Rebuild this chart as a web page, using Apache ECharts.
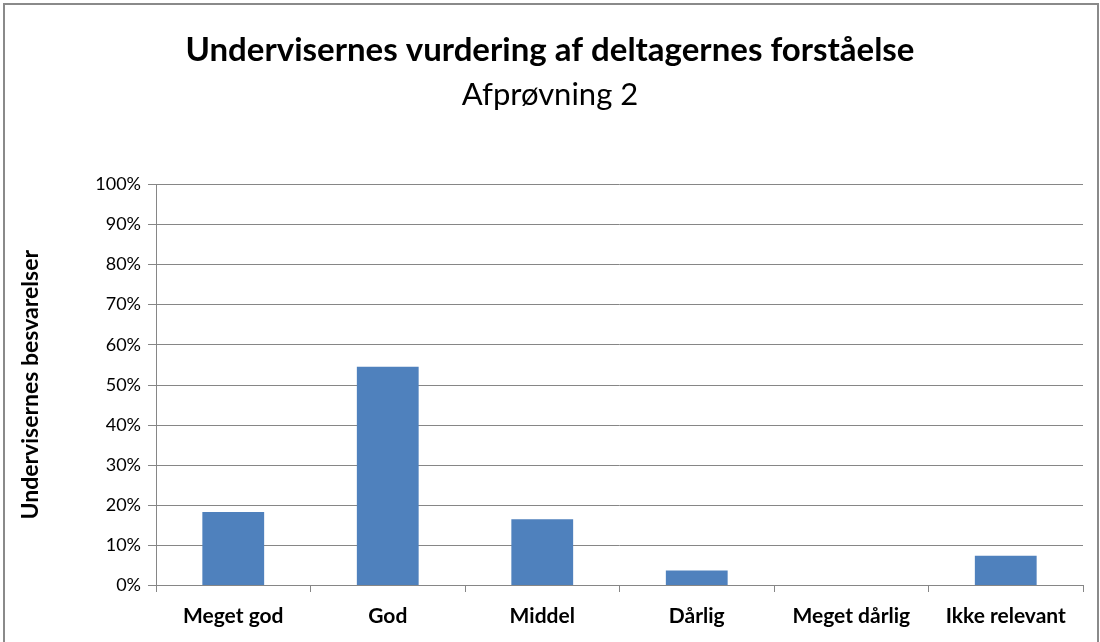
<!DOCTYPE html>
<html>
<head>
<meta charset="utf-8">
<script src="https://cdn.jsdelivr.net/npm/echarts@6/dist/echarts.min.js"></script>
<style>
    html, body { margin: 0; padding: 0; background: #fff; overflow: hidden; }
    #frame { position: absolute; left: 3px; top: 3px; width: 1092px; height: 700px; border: 2px solid #8a8a8a; }
    #main { position: absolute; left: 0; top: 0; width: 1100px; height: 642px; }
</style>
</head>
<body>
<div id="frame"></div>
<div id="main"></div>
<script>
    // kategorier og andele (i %)
    var categories = ['Meget god', 'God', 'Middel', 'Dårlig', 'Meget dårlig', 'Ikke relevant'];
    var values = [18.2, 54.5, 16.4, 3.6, 0, 7.3];
    var yTicks = [0, 10, 20, 30, 40, 50, 60, 70, 80, 90, 100];

    var myChart = echarts.init(document.getElementById('main'));
    var option = {
        animation: false,
        title: [{
            text: 'Undervisernes vurdering af deltagernes forståelse',
            left: 'center',
            top: 29,
            textStyle: { fontFamily: 'Lato', fontSize: 33, fontWeight: 'bold', color: '#000' }
        }, {
            text: 'Afprøvning 2',
            left: 'center',
            top: 74,
            textStyle: { fontFamily: 'Lato', fontSize: 31, fontWeight: 'normal', color: '#000' }
        }],
        grid: { left: 156, right: 17, top: 184.5, bottom: 57 },
        xAxis: {
            type: 'category',
            data: categories,
            axisLine: { lineStyle: { color: '#868686', width: 1 } },
            axisTick: { show: true, length: 7, lineStyle: { color: '#868686' } },
            axisLabel: { interval: 0, color: '#000', fontFamily: 'Lato', fontSize: 21, fontWeight: 'bold', margin: 21 }
        },
        yAxis: {
            type: 'value',
            min: yTicks[0],
            max: yTicks[yTicks.length - 1],
            interval: 10,
            name: 'Undervisernes besvarelser',
            nameLocation: 'middle',
            nameGap: 114,
            nameTextStyle: { color: '#000', fontFamily: 'Lato', fontSize: 23, fontWeight: 'bold' },
            axisLine: { show: true, lineStyle: { color: '#868686', width: 1 } },
            axisTick: { show: true, length: 8, lineStyle: { color: '#868686' } },
            splitLine: { lineStyle: { color: '#868686', width: 1 } },
            axisLabel: { color: '#000', fontFamily: 'Lato', fontSize: 18, margin: 15, formatter: '{value}%' }
        },
        series: [{
            type: 'bar',
            data: values,
            barWidth: '40%',
            itemStyle: { color: '#4F81BD' }
        }]
    };
    myChart.setOption(option);
</script>
</body>
</html>
